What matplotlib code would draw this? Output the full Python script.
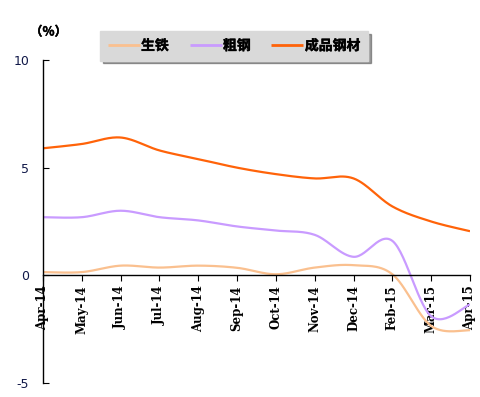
import numpy as np
import matplotlib.pyplot as plt
import matplotlib.patheffects as pe

months = ['Apr-14', 'May-14', 'Jun-14', 'Jul-14', 'Aug-14', 'Sep-14',
          'Oct-14', 'Nov-14', 'Dec-14', 'Feb-15', 'Mar-15', 'Apr-15']
pig_iron = [0.15, 0.15, 0.45, 0.36, 0.45, 0.35, 0.05, 0.36, 0.47, 0.05, -2.35, -2.55]
crude_steel = [2.7, 2.7, 3.0, 2.7, 2.55, 2.27, 2.08, 1.88, 0.86, 1.6, -1.9, -1.35]
steel_products = [5.9, 6.1, 6.4, 5.8, 5.4, 5.0, 4.7, 4.5, 4.5, 3.2, 2.5, 2.05]
series_names = ['生铁', '粗钢', '成品钢材']
yticks = [-5, 0, 5, 10]


def smooth(x, y, n=30):
    # excel-like smoothed line: cubic bezier, catmull-rom control points
    x = np.asarray(x, float)
    y = np.asarray(y, float)
    px = np.concatenate([[x[0]], x, [x[-1]]])
    py = np.concatenate([[y[0]], y, [y[-1]]])
    xs, ys = [], []
    t = np.linspace(0, 1, n)
    for i in range(1, len(px) - 2):
        p0 = np.array([px[i], py[i]])
        p3 = np.array([px[i + 1], py[i + 1]])
        p1 = p0 + (np.array([px[i + 1], py[i + 1]]) - np.array([px[i - 1], py[i - 1]])) / 6
        p2 = p3 - (np.array([px[i + 2], py[i + 2]]) - np.array([px[i], py[i]])) / 6
        b = ((1 - t) ** 3)[:, None] * p0 + (3 * (1 - t) ** 2 * t)[:, None] * p1 \
            + (3 * (1 - t) * t ** 2)[:, None] * p2 + (t ** 3)[:, None] * p3
        xs.append(b[:, 0])
        ys.append(b[:, 1])
    return np.concatenate(xs), np.concatenate(ys)


plt.rcParams['font.family'] = ['Noto Sans CJK SC', 'DejaVu Sans']
bold = [pe.withStroke(linewidth=0.3, foreground='black')]

fig = plt.figure(figsize=(4.81, 3.97), dpi=100)
ax = fig.add_axes([43 / 481, 14 / 397, 427 / 481, 323 / 397])

x = np.arange(len(months))
colors = ['#fac08f', '#c99bff', '#ff6309']
for vals, name, c in zip([pig_iron, crude_steel, steel_products], series_names, colors):
    sx, sy = smooth(x, vals)
    ax.plot(sx, sy, color=c, lw=1.6, label=name, solid_capstyle='butt')

ax.set_xlim(0, len(months) - 1)
ax.set_ylim(-5, 10)
ax.spines['top'].set_visible(False)
ax.spines['right'].set_visible(False)
ax.spines['bottom'].set_position(('data', 0))
ax.spines['left'].set_linewidth(1.0)
ax.spines['bottom'].set_linewidth(1.0)

ax.set_xticks(x)
ax.set_xticklabels(months, rotation=90, fontfamily='DejaVu Serif',
                   fontweight='bold', fontsize=8.5)
ax.tick_params(axis='x', direction='out', length=4, pad=3)
ax.set_yticks(yticks)
ax.set_yticklabels([str(v) for v in yticks], fontfamily='DejaVu Sans',
                   fontsize=9, color='#101848')
ax.tick_params(axis='y', direction='in', length=4, pad=10)

fig.text(30 / 481, 1 - 32 / 397, '（%）', fontsize=9, fontweight='bold',
         va='center', ha='left', path_effects=bold)

leg = fig.legend(loc='center', bbox_to_anchor=(234 / 481, 1 - 46 / 397), ncol=3,
                 frameon=True, fancybox=False, shadow=True, facecolor='#d9d9d9',
                 edgecolor='#d9d9d9', framealpha=1, handlelength=2.3,
                 columnspacing=1.5, handletextpad=0.1, borderpad=0.55,
                 prop={'weight': 'bold', 'size': 10})
for line in leg.get_lines():
    line.set_linewidth(2)
for txt in leg.get_texts():
    txt.set_path_effects(bold)

fig.savefig('out.png', dpi=100)
